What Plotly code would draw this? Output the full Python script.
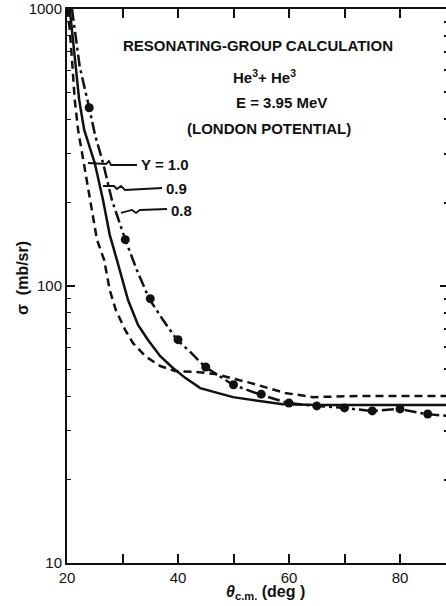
import plotly.graph_objects as go

# ---- data ----
theta_y10 = [20.1, 20.5, 20.9, 21.4, 22.0, 22.9, 24.1, 25.4, 26.7, 27.7, 28.8, 30.5, 31.9,
             34.1, 36.8, 39.5, 43.1, 46.7, 53.0, 59.3, 64.3, 72.8, 80.0, 88.3]
sigma_y10 = [1000, 840, 655, 469, 366, 285, 204, 147, 124, 96.8, 81.9, 69.3, 62.2,
             55.8, 51.4, 49.3, 49.0, 48.1, 44.7, 41.1, 39.7, 40.1, 40.1, 40.1]

theta_y09 = [20.5, 21.3, 22.2, 23.1, 25.0, 26.5, 27.7, 29.0, 31.0, 32.8, 34.6, 36.8, 39.1,
             41.3, 44.0, 49.9, 54.8, 58.9, 65.6, 88.3]
sigma_y09 = [1000, 711, 469, 366, 278, 204, 153, 124, 89, 72.3, 63.8, 55.8, 50.6,
             46.6, 42.8, 39.7, 38.5, 37.4, 37.2, 37.2]

theta_y08 = [20.9, 22.3, 24.0, 25.05, 26.5, 28.1, 30.5, 32.6, 34.8, 37.3, 39.8, 42.2, 44.9,
             49.9, 54.6, 59.8, 64.9, 69.9, 74.8, 79.8, 84.7, 88.3]
sigma_y08 = [1000, 618, 440, 351, 278, 204, 147, 114, 90, 75.4, 64, 57.8, 51,
             44, 40.7, 37.8, 36.9, 36.3, 35.4, 36, 34.5, 34.0]

theta_exp = [24, 30.5, 35, 40, 45, 50, 55, 60, 65, 70, 75, 80, 85]
sigma_exp = [440, 147, 90, 64, 51, 44, 40.7, 37.8, 36.9, 36.3, 35.4, 36, 34.5]

x_ticks = [20, 40, 60, 80]
x_ticktext = ["20", "40", "60", "80"]
x_minor = [30, 50, 70]
y_ticks = [10, 100, 1000]
y_ticktext = ["10", "100", "1000"]
y_minor = [20, 30, 40, 50, 60, 70, 80, 90, 200, 300, 400, 500, 600, 700, 800, 900]

# ---- layout geometry (viewport pixels) ----
W, H = 446, 606
L, R, T, B = 67, 0, 9, 43
PW, PH = W - L - R, H - T - B


def fx(px):
    return (px - L) / PW


def fy(py):
    return (H - B - py) / PH


FONT = "Liberation Sans"
BLACK = "#111"

fig = go.Figure()
fig.add_trace(go.Scatter(x=theta_y10, y=sigma_y10, mode="lines",
                         line=dict(color=BLACK, width=2.5, dash="8px,5px"),
                         hoverinfo="skip", showlegend=False))
fig.add_trace(go.Scatter(x=theta_y09, y=sigma_y09, mode="lines",
                         line=dict(color=BLACK, width=2.5),
                         hoverinfo="skip", showlegend=False))
fig.add_trace(go.Scatter(x=theta_y08, y=sigma_y08, mode="lines",
                         line=dict(color=BLACK, width=2.5, dash="12px,4px,3px,4px"),
                         hoverinfo="skip", showlegend=False))
fig.add_trace(go.Scatter(x=theta_exp, y=sigma_exp, mode="markers",
                         marker=dict(color=BLACK, size=9),
                         hoverinfo="skip", showlegend=False))
# invisible trace to anchor the right-hand tick axis
fig.add_trace(go.Scatter(x=[50], y=[50], yaxis="y2", mode="markers",
                         marker=dict(opacity=0), hoverinfo="skip", showlegend=False))

x_max = 20 + PW / 5.55

fig.update_layout(
    width=W, height=H,
    margin=dict(l=L, r=R, t=T, b=B, pad=0),
    paper_bgcolor="white", plot_bgcolor="white",
    font=dict(family=FONT, size=14, color=BLACK),
    xaxis=dict(range=[20, x_max], tickmode="array", tickvals=x_ticks, ticktext=x_ticktext,
               ticks="inside", ticklen=9, tickwidth=1.5, tickcolor=BLACK,
               showline=True, linewidth=2, linecolor=BLACK, mirror="ticks",
               showgrid=False, zeroline=False,
               minor=dict(tickmode="array", tickvals=x_minor, ticks="inside", ticklen=9,
                          tickwidth=1.5, tickcolor=BLACK, showgrid=False),
               tickfont=dict(family=FONT, size=15, color=BLACK)),
    yaxis=dict(type="log", range=[1, 3], tickmode="array", tickvals=y_ticks, ticktext=y_ticktext,
               ticks="inside", ticklen=8, tickwidth=1.5, tickcolor=BLACK,
               showline=True, linewidth=2, linecolor=BLACK, mirror=False,
               showgrid=False, zeroline=False,
               minor=dict(tickmode="array", tickvals=y_minor, ticks="inside", ticklen=4,
                          tickwidth=1.2, tickcolor=BLACK, showgrid=False),
               tickfont=dict(family=FONT, size=15, color=BLACK)),
    yaxis2=dict(type="log", range=[1, 3], overlaying="y", side="right", anchor="x",
                tickmode="array", tickvals=y_ticks, showticklabels=False,
                ticks="inside", ticklen=6, tickwidth=1.5, tickcolor=BLACK,
                showline=False, showgrid=False, zeroline=False,
                minor=dict(tickmode="array", tickvals=y_minor, ticks="inside", ticklen=2,
                           tickwidth=2, tickcolor=BLACK, showgrid=False)),
)

ann = [
    ("<b>RESONATING-GROUP CALCULATION</b>", 258, 45, "center", 15),
    ("<b>He<sup>3</sup>+ He<sup>3</sup></b>", 264, 76, "center", 15),
    ("<b>E = 3.95 MeV</b>", 281, 103, "center", 15),
    ("<b>(LONDON POTENTIAL)</b>", 269, 128, "center", 15),
    ("<b>Y = 1.0</b>", 139, 164, "left", 15),
    ("<b>0.9</b>", 164, 188, "left", 15),
    ("<b>0.8</b>", 169, 211, "left", 15),
]
for text, x, y, anchor, size in ann:
    fig.add_annotation(text=text, x=fx(x), y=fy(y), xref="paper", yref="paper",
                       xanchor=anchor, yanchor="middle", showarrow=False,
                       font=dict(family=FONT, size=size, color=BLACK))

# axis titles
fig.add_annotation(text="<b>σ  (mb/sr)</b>", x=fx(22), y=fy(278), xref="paper", yref="paper",
                   textangle=-90, showarrow=False, xanchor="center", yanchor="middle",
                   font=dict(family=FONT, size=16, color=BLACK))
fig.add_annotation(text="<b><i>θ</i><sub>c.m.</sub> (deg )</b>", x=fx(265), y=fy(592),
                   xref="paper", yref="paper", showarrow=False,
                   xanchor="center", yanchor="middle",
                   font=dict(family=FONT, size=16, color=BLACK))

# leader lines for the curve labels (pixel paths converted to paper fractions)
leaders = [
    [(137, 165), (111, 165), (109, 161), (106, 164), (88, 163)],
    [(162, 188), (125, 190), (121, 186), (117, 189), (114, 186), (103, 186)],
    [(167, 209), (140, 210), (136, 213), (132, 210), (121, 213)],
]
for pts in leaders:
    path = "M " + " L ".join(f"{fx(a):.4f},{fy(b):.4f}" for a, b in pts)
    fig.add_shape(type="path", path=path, xref="paper", yref="paper",
                  line=dict(color=BLACK, width=1.8))

fig.write_html("out.html", config={"displayModeBar": False},
               post_script="document.body.style.margin='0';document.body.style.overflow='hidden';")
